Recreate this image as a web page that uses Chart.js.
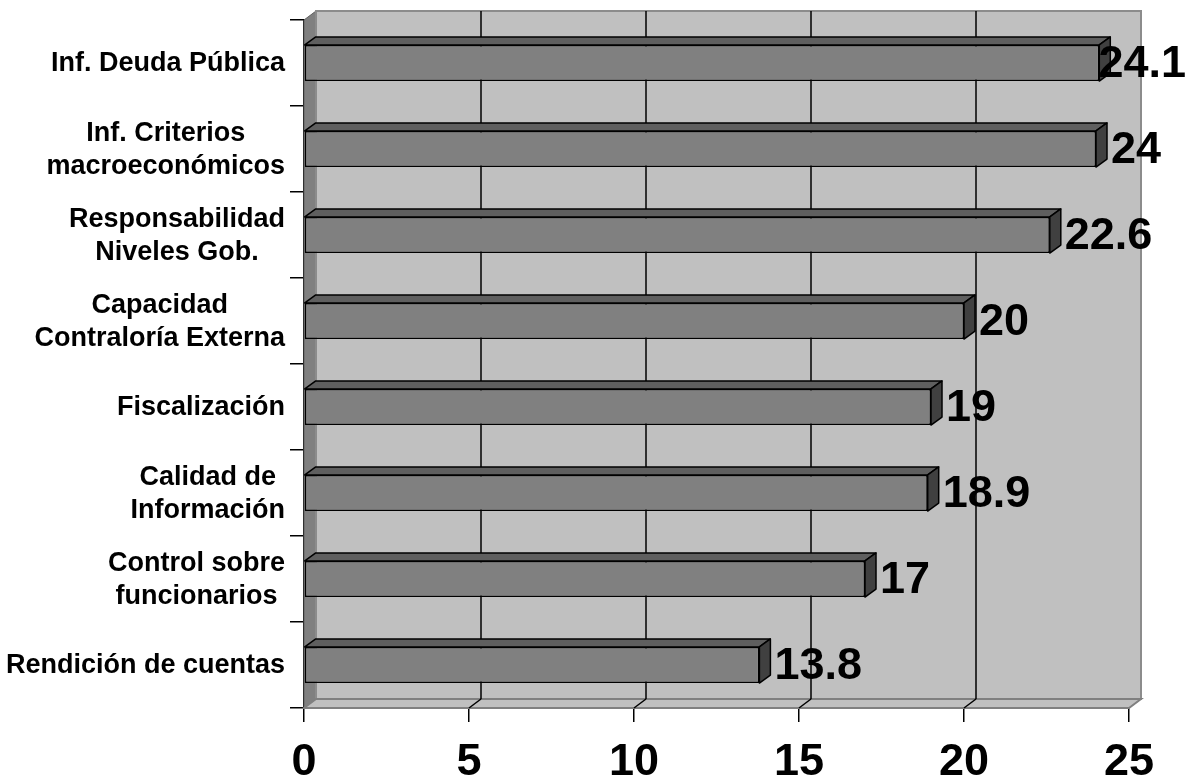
<!DOCTYPE html>
<html>
<head>
<meta charset="utf-8">
<script src="https://cdn.jsdelivr.net/npm/chart.js@4"></script>
<style>
  html, body { margin: 0; padding: 0; background: #fff; }
</style>
</head>
<body>
<canvas id="myChart" width="1190" height="780"></canvas>
<script>
// datos
var categorias = [
  ["Inf. Deuda Pública"],
  ["Inf. Criterios", "macroeconómicos"],
  ["Responsabilidad", "Niveles Gob."],
  ["Capacidad", "Contraloría Externa"],
  ["Fiscalización"],
  ["Calidad de", "Información"],
  ["Control sobre", "funcionarios"],
  ["Rendición de cuentas"]
];
var valores = [24.1, 24, 22.6, 20, 19, 18.9, 17, 13.8];
var ejeMin = 0;
var ejeMax = 25;
var paso = 5;

var fuente = '"Liberation Sans", Arial, sans-serif';
Chart.defaults.font.family = fuente;

function poligono(ctx, pts, relleno, trazo, grosor) {
  ctx.beginPath();
  ctx.moveTo(pts[0][0], pts[0][1]);
  for (var k = 1; k < pts.length; k++) ctx.lineTo(pts[k][0], pts[k][1]);
  ctx.closePath();
  if (relleno) { ctx.fillStyle = relleno; ctx.fill(); }
  if (trazo) { ctx.strokeStyle = trazo; ctx.lineWidth = grosor || 1; ctx.stroke(); }
}

// paredes, piso y cuadricula en 3D
var paredes3d = {
  id: 'paredes3d',
  beforeDatasetsDraw: function (chart) {
    var ctx = chart.ctx, a = chart.chartArea, sx = chart.scales.x;
    var dx = 12, dy = -9;
    ctx.save();
    // pared lateral
    poligono(ctx, [[a.left, a.top], [a.left + dx, a.top + dy], [a.left + dx, a.bottom + dy], [a.left, a.bottom]], '#808080', '#606060', 1);
    // fondo
    poligono(ctx, [[a.left + dx, a.top + dy], [a.right + dx, a.top + dy], [a.right + dx, a.bottom + dy], [a.left + dx, a.bottom + dy]], '#C0C0C0', '#8c8c8c', 2);
    // piso
    poligono(ctx, [[a.left, a.bottom], [a.left + dx, a.bottom + dy], [a.right + dx, a.bottom + dy], [a.right, a.bottom]], '#C0C0C0', '#808080', 2);
    // cuadricula
    sx.ticks.forEach(function (t) {
      var px = sx.getPixelForValue(t.value);
      ctx.strokeStyle = '#000';
      ctx.lineWidth = 1.5;
      if (t.value > ejeMin && t.value < ejeMax) {
        ctx.beginPath();
        ctx.moveTo(px + dx, a.top + dy);
        ctx.lineTo(px + dx, a.bottom + dy);
        ctx.stroke();
        ctx.beginPath();
        ctx.moveTo(px, a.bottom);
        ctx.lineTo(px + dx, a.bottom + dy);
        ctx.stroke();
      }
    });
    ctx.restore();
  },
  afterDatasetsDraw: function (chart) {
    var ctx = chart.ctx, a = chart.chartArea;
    var meta = chart.getDatasetMeta(0);
    var bx = 11, by = -8;
    ctx.save();
    ctx.lineJoin = 'round';
    meta.data.forEach(function (bar, i) {
      var p = bar.getProps(['x', 'y', 'base', 'height'], true);
      var arriba = p.y - p.height / 2, abajo = p.y + p.height / 2;
      poligono(ctx, [[p.base, arriba], [p.base + bx, arriba + by], [p.x + bx, arriba + by], [p.x, arriba]], '#5f5f5f', '#000', 1.5);
      poligono(ctx, [[p.x, arriba], [p.x + bx, arriba + by], [p.x + bx, abajo + by], [p.x, abajo]], '#404040', '#000', 1.5);
    });
    // etiquetas de valores (se recortan al borde del lienzo)
    ctx.font = 'bold 45px ' + fuente;
    ctx.textAlign = 'left';
    ctx.textBaseline = 'middle';
    ctx.fillStyle = '#000';
    meta.data.forEach(function (bar, i) {
      var txt = String(valores[i]);
      var w = ctx.measureText(txt).width;
      var x0 = Math.min(bar.x + 15, chart.width - w - 4);
      ctx.fillText(txt, x0, bar.y + 2);
    });
    // etiquetas de categorias
    var sy = chart.scales.y;
    ctx.font = 'bold 27px ' + fuente;
    ctx.textAlign = 'center';
    categorias.forEach(function (lineas, i) {
      var cy = sy.getPixelForValue(i);
      var ancho = Math.max.apply(null, lineas.map(function (l) { return ctx.measureText(l).width; }));
      var cx = a.left - 19 - ancho / 2;
      var alto = 33;
      lineas.forEach(function (l, j) {
        ctx.fillText(l, cx, cy + 1 + (j - (lineas.length - 1) / 2) * alto);
      });
    });
    ctx.restore();
  }
};

var ctx = document.getElementById('myChart').getContext('2d');
new Chart(ctx, {
  type: 'bar',
  data: {
    labels: categorias,
    datasets: [{
      data: valores,
      backgroundColor: '#808080',
      borderColor: '#000',
      borderWidth: 1.5,
      borderSkipped: false,
      categoryPercentage: 1,
      barPercentage: 0.42
    }]
  },
  options: {
    indexAxis: 'y',
    responsive: false,
    animation: false,
    layout: { padding: { top: 20, right: 61, left: 0, bottom: 0 } },
    plugins: { legend: { display: false }, tooltip: { enabled: false } },
    scales: {
      x: {
        min: ejeMin,
        max: ejeMax,
        ticks: { stepSize: paso, color: '#000', padding: 14, font: { size: 45, weight: 'bold' } },
        grid: { drawOnChartArea: false, drawTicks: true, tickLength: 14, color: '#000', lineWidth: 1.5 },
        border: { color: '#000', width: 1.5 },
        afterFit: function (s) { s.height = 72; }
      },
      y: {
        ticks: { display: false },
        grid: { drawOnChartArea: false, drawTicks: true, tickLength: 14, color: '#000', lineWidth: 1.5 },
        border: { color: '#000', width: 1.5 },
        afterFit: function (s) { s.width = 304; }
      }
    }
  },
  plugins: [paredes3d]
});
</script>
</body>
</html>
